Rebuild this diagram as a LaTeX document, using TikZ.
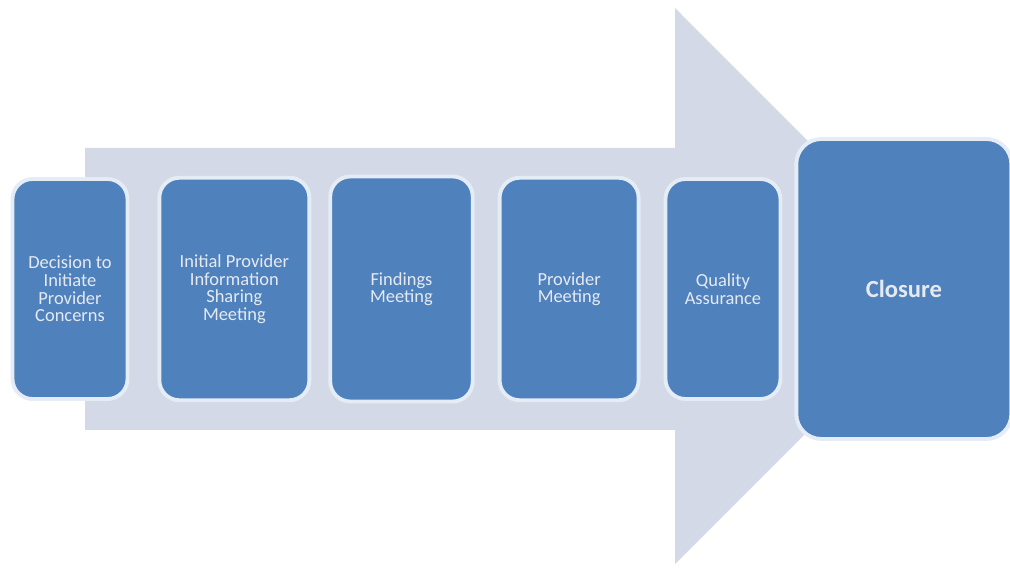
\documentclass[tikz,border=0pt]{standalone}
\usepackage{fontspec}
\setmainfont{Carlito}
\usetikzlibrary{positioning}
\definecolor{StepBlue}{HTML}{4F81BD}
\definecolor{StepEdge}{HTML}{E4ECF6}
\definecolor{ArrowGrey}{HTML}{D3D9E6}
\definecolor{StepText}{HTML}{E6EAF0}

\begin{document}
\begin{tikzpicture}[
				stepbox/.style={draw=StepEdge, fill=StepBlue, line width=2.2pt, rounded corners=0.4cm,
					minimum width=2.3cm, minimum height=4.4cm, inner sep=2pt,
					align=center, text=StepText, font=\fontsize{10.5}{10}\selectfont},
				bigbox/.style={stepbox, rounded corners=0.5cm, minimum width=4.3cm, minimum height=6.0cm,
					font=\fontsize{14}{16}\selectfont\bfseries},
				node distance=0.4cm
				]
				\useasboundingbox (0,0) rectangle (20.2,11.34);
				% the big arrow behind the steps
				\fill[ArrowGrey] (1.7,8.38) -- (13.5,8.38) -- (13.5,11.18) -- (19.06,5.61)
					-- (13.5,0.06) -- (13.5,2.74) -- (1.7,2.74) -- cycle;
				\node[stepbox] (s1) at (1.40,5.56) {Decision to\\Initiate\\Provider\\Concerns};
				\node[stepbox, minimum width=3.0cm, minimum height=4.45cm, right=0.56cm of s1] (s2) {Initial Provider\\Information\\Sharing\\Meeting};
				\node[stepbox, minimum width=2.85cm, minimum height=4.5cm, right=0.34cm of s2] (s3) {Findings\\Meeting};
				\node[stepbox, minimum width=2.78cm, minimum height=4.45cm, right=0.46cm of s3] (s4) {Provider\\Meeting};
				\node[stepbox, right=0.46cm of s4] (s5) {Quality\\Assurance};
				\node[bigbox, right=0.24cm of s5] (s6) {Closure};
			\end{tikzpicture}
\end{document}
